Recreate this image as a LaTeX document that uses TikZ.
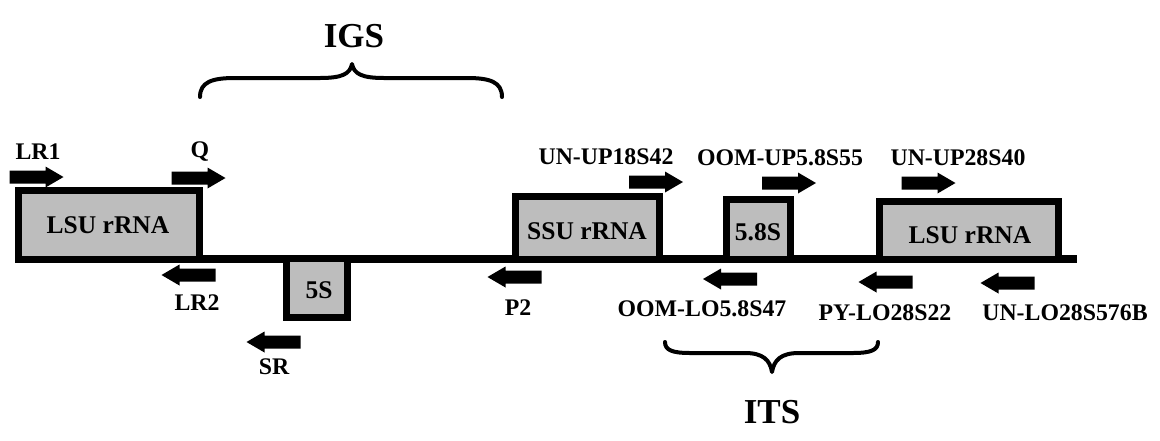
\documentclass[tikz,border=0pt]{standalone}
\usepackage{fontspec}
\setmainfont{Liberation Serif}
\newcommand\plab{\fontsize{23.8}{26}\selectfont\bfseries}
\newcommand\pbox{\fontsize{25.5}{27}\selectfont\bfseries}
\newcommand\pbig{\fontsize{35}{38}\selectfont\bfseries}
\definecolor{stip}{gray}{0.74}
\begin{document}
\begin{tikzpicture}[x=1pt,y=-1pt,
  gene/.style={draw=black, line width=7pt, fill=stip, inner sep=0pt},
  boxtxt/.style={font=\pbox, inner sep=0pt},
  lab/.style={font=\plab, inner sep=0pt},
  big/.style={font=\pbig, inner sep=0pt},
  brace/.style={line width=4pt, line cap=round, line join=round},
  fwd/.pic={\fill[black] (-27,-6.5) -- (9,-6.5) -- (9,-10.5) -- (27,0) -- (9,10.5) -- (9,6.5) -- (-27,6.5) -- cycle;},
  rev/.pic={\fill[black] (27,-6.5) -- (-9,-6.5) -- (-9,-10.5) -- (-27,0) -- (-9,10.5) -- (-9,6.5) -- (27,6.5) -- cycle;}
]
\useasboundingbox (0,0) rectangle (1160,440);

% main line
\coordinate (L0) at (15,259);
\coordinate (L1) at (1077,259);
\draw[line width=8pt] (L0) -- (L1);

% genes
\node[gene, minimum width=181, minimum height=69] (lsuA) at (109,225) {};
\node[boxtxt] (lsuAt) at (108,225) {LSU rRNA};
\node[gene, minimum width=61, minimum height=59] (fiveS) at (317,288) {};
\node[boxtxt] (fiveSt) at (319,290) {5S};
\node[gene, minimum width=144, minimum height=63] (ssu) at (587.5,228) {};
\node[boxtxt] (ssut) at (587,231) {SSU rRNA};
\node[gene, minimum width=64, minimum height=60] (fiveeight) at (758.5,229.5) {};
\node[boxtxt] (fiveeightt) at (758,232) {5.8S};
\node[gene, minimum width=179, minimum height=58] (lsuB) at (969,230.5) {};
\node[boxtxt] (lsuBt) at (970,235) {LSU rRNA};

% primers
\pic (pLRa) at (36.5,177) {fwd};
\pic (pQ) at (198.5,178) {fwd};
\pic (pLRb) at (188.5,275) {rev};
\pic (pSR) at (273.5,342) {rev};
\pic (pP) at (514.5,277) {rev};
\pic (pUNa) at (656,182) {fwd};
\pic (pOOMa) at (789,183) {fwd};
\pic (pUNb) at (928.5,183) {fwd};
\pic (pOOMb) at (730,279) {rev};
\pic (pPY) at (885.5,282) {rev};
\pic (pUNc) at (1007.5,283) {rev};

% primer labels
\node[lab] (tLRa) at (38,152) {LR1};
\node[lab] (tQ) at (200,152) {Q};
\node[lab] (tLRb) at (197,303) {LR2};
\node[lab] (tSR) at (274,367) {SR};
\node[lab] (tP) at (518,308) {P2};
\node[lab] (tUNa) at (606,157) {UN-UP18S42};
\node[lab] (tOOMa) at (780,158) {OOM-UP5.8S55};
\node[lab] (tUNb) at (958,158) {UN-UP28S40};
\node[lab] (tOOMb) at (702,309) {OOM-LO5.8S47};
\node[lab] (tPY) at (885,313) {PY-LO28S22};
\node[lab] (tUNc) at (1065,313) {UN-LO28S576B};

% braces
\draw[brace] (200,97) .. controls (200,82) and (212,78) .. (235,78) -- (320,78)
  .. controls (342,78) and (350,74) .. (352,64)
  .. controls (354,74) and (362,78) .. (384,78) -- (467,78)
  .. controls (490,78) and (502,82) .. (502,97);
\node[big] (igs) at (354,36) {IGS};

\draw[brace] (665,342) .. controls (665,350) and (672,353) .. (690,353) -- (745,353)
  .. controls (763,353) and (770,360) .. (772,372)
  .. controls (774,360) and (781,353) .. (799,353) -- (853,353)
  .. controls (871,353) and (878,350) .. (878,342);
\node[big] (its) at (772,412) {ITS};
\end{tikzpicture}
\end{document}
